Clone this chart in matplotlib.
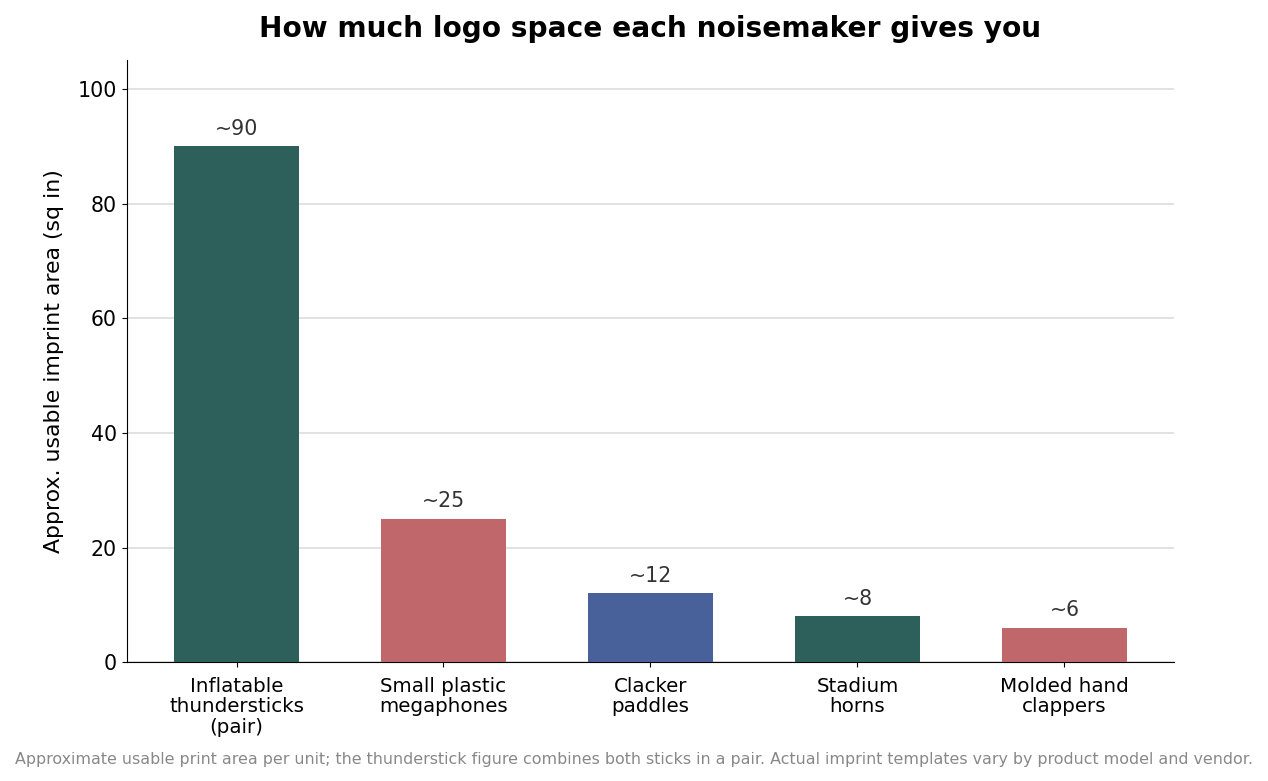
import matplotlib
matplotlib.use("Agg")
import matplotlib.pyplot as plt

categories = ["Inflatable\nthundersticks\n(pair)", "Small plastic\nmegaphones", "Clacker\npaddles", "Stadium\nhorns", "Molded hand\nclappers"]
values = [90, 25, 12, 8, 6]
labels = ["~90", "~25", "~12", "~8", "~6"]
colors = ["#2d5f5b", "#c0676b", "#48619a", "#2d5f5b", "#c0676b"]

fig = plt.figure(figsize=(12.68, 7.81), dpi=100)
ax = fig.add_axes([0.100, 0.152, 0.826, 0.771])
x = range(len(categories))
ax.bar(x, values, width=0.6, color=colors, zorder=3)
for i, (v, l) in enumerate(zip(values, labels)):
    ax.text(i, v + 1.3, l, ha="center", va="bottom", fontsize=14.8, color="#333333")
ax.set_xticks(list(x))
ax.set_xticklabels(categories, fontsize=14.3, linespacing=1.1)
ax.tick_params(axis="x", pad=7)
ax.set_ylim(0, 105)
ax.set_yticks([0, 20, 40, 60, 80, 100])
ax.tick_params(axis="y", labelsize=14.8)
ax.set_ylabel("Approx. usable imprint area (sq in)", fontsize=15.8, labelpad=10)
ax.yaxis.grid(True, color="#dddddd", linewidth=1.2, zorder=0)
ax.spines["top"].set_visible(False)
ax.spines["right"].set_visible(False)
ax.set_xlim(-0.53, 4.53)
ax.set_title("How much logo space each noisemaker gives you", fontsize=20.2, fontweight="bold", pad=17)
fig.text(0.5, 0.028, "Approximate usable print area per unit; the thunderstick figure combines both sticks in a pair. Actual imprint templates vary by product model and vendor.",
         ha="center", va="center", fontsize=11.4, color="#888888")
fig.savefig("out.png", dpi=100)
